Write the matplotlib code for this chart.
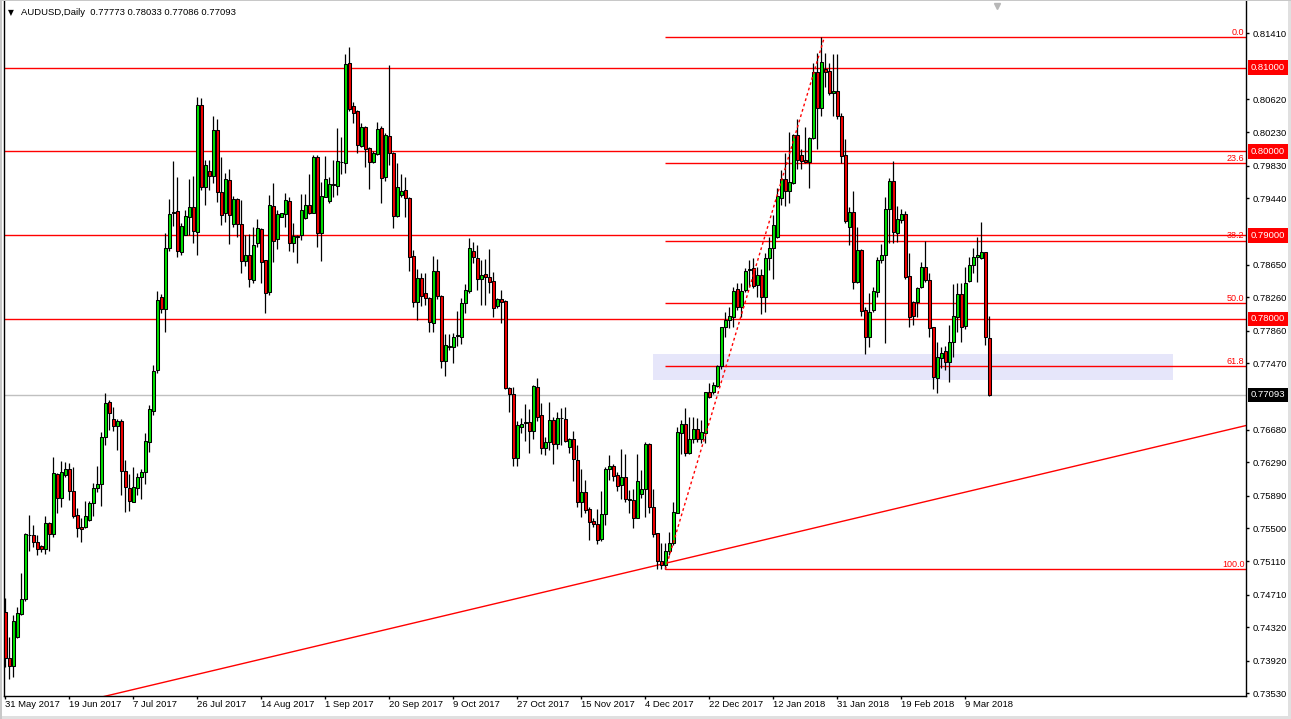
import matplotlib
matplotlib.use('Agg')
import matplotlib.pyplot as plt
import matplotlib.transforms as mtransforms
from matplotlib.patches import Rectangle
from matplotlib.lines import Line2D

plt.rcParams['font.family'] = ['Liberation Sans', 'DejaVu Sans']

symbol = 'AUDUSD,Daily'

opens = [
    0.74497, 0.73948, 0.73860, 0.74206, 0.74477, 0.74652, 0.75416, 0.75416, 0.75333, 0.75285,
    0.75249, 0.75564, 0.75436, 0.76149, 0.75866, 0.76137, 0.76208, 0.75942, 0.75655, 0.75516,
    0.75520, 0.75599, 0.75798, 0.75978, 0.76029, 0.76586, 0.77004, 0.76801, 0.76726, 0.76777,
    0.76180, 0.75985, 0.75818, 0.75977, 0.76108, 0.76168, 0.76534, 0.76904, 0.77390, 0.78257,
    0.78114, 0.78843, 0.79260, 0.79284, 0.78803, 0.79006, 0.79221, 0.79332, 0.79042, 0.80554,
    0.79579, 0.79766, 0.79710, 0.80251, 0.79511, 0.79260, 0.79658, 0.79137, 0.79428, 0.79129,
    0.78695, 0.78759, 0.78464, 0.78902, 0.79069, 0.78703, 0.78325, 0.79348, 0.78950, 0.79221,
    0.79252, 0.79404, 0.78910, 0.78994, 0.78998, 0.79209, 0.79360, 0.79268, 0.79933, 0.79030,
    0.79459, 0.79412, 0.79607, 0.79591, 0.79869, 0.79865, 0.81051, 0.80542, 0.80482, 0.80064,
    0.80287, 0.80037, 0.79877, 0.79969, 0.80275, 0.79690, 0.80184, 0.79985, 0.79232, 0.79479,
    0.79539, 0.79447, 0.78751, 0.78206, 0.78484, 0.78305, 0.78245, 0.77955, 0.78572, 0.78273,
    0.77501, 0.77668, 0.77668, 0.77796, 0.77788, 0.78186, 0.78337, 0.78810, 0.78723, 0.78480,
    0.78532, 0.78504, 0.78452, 0.78154, 0.78238, 0.78218, 0.77172, 0.77100, 0.76336, 0.76706,
    0.76754, 0.76766, 0.76666, 0.77187, 0.76853, 0.76455, 0.76535, 0.76789, 0.76511, 0.76817,
    0.76805, 0.76467, 0.76563, 0.76316, 0.75818, 0.75930, 0.75727, 0.75587, 0.75552, 0.75369,
    0.75667, 0.76204, 0.76244, 0.76133, 0.76021, 0.76109, 0.75850, 0.75838, 0.75627, 0.75906,
    0.75965, 0.76507, 0.75758, 0.75440, 0.75114, 0.75062, 0.75233, 0.75321, 0.75687, 0.76642,
    0.76745, 0.76403, 0.76566, 0.76682, 0.76566, 0.76642, 0.77124, 0.77124, 0.77203, 0.77442,
    0.77900, 0.77987, 0.78027, 0.78353, 0.78138, 0.78345, 0.78583, 0.78603, 0.78404, 0.78524,
    0.78265, 0.78723, 0.78842, 0.78981, 0.79447, 0.79666, 0.79531, 0.79626, 0.80195, 0.79957,
    0.79897, 0.79877, 0.80156, 0.80944, 0.80514, 0.80983, 0.80959, 0.80693, 0.80721, 0.80422,
    0.79957, 0.79101, 0.79272, 0.78436, 0.78822, 0.78106, 0.77779, 0.78106, 0.78325, 0.78703,
    0.78763, 0.79308, 0.79646, 0.79030, 0.79181, 0.79252, 0.78512, 0.78198, 0.78198, 0.78377,
    0.78620, 0.78464, 0.77899, 0.77290, 0.77537, 0.77617, 0.77489, 0.77720, 0.78027, 0.78297,
    0.77915, 0.78456, 0.78644, 0.78735, 0.78723, 0.78795, 0.77773,
]
highs = [
    0.74664, 0.74206, 0.74461, 0.74565, 0.74971, 0.75440, 0.75659, 0.75536, 0.75420, 0.75301,
    0.75647, 0.75580, 0.76348, 0.76157, 0.76300, 0.76292, 0.76276, 0.76228, 0.75739, 0.75619,
    0.75826, 0.75830, 0.76045, 0.76244, 0.76654, 0.77112, 0.77032, 0.76945, 0.76801, 0.76801,
    0.76316, 0.76148, 0.76228, 0.76156, 0.76208, 0.76634, 0.76972, 0.77446, 0.78333, 0.78297,
    0.79030, 0.79428, 0.79889, 0.79690, 0.79141, 0.79300, 0.79666, 0.79706, 0.80653, 0.80633,
    0.79897, 0.79897, 0.80423, 0.80383, 0.79937, 0.79738, 0.79786, 0.79467, 0.79440, 0.79420,
    0.79002, 0.79014, 0.79101, 0.79193, 0.79081, 0.78703, 0.79479, 0.79619, 0.79300, 0.79268,
    0.79499, 0.79459, 0.79149, 0.79000, 0.79491, 0.79491, 0.79730, 0.79957, 0.79957, 0.79639,
    0.79945, 0.79690, 0.79897, 0.80275, 0.80176, 0.81163, 0.81250, 0.80594, 0.80490, 0.80335,
    0.80303, 0.80048, 0.80000, 0.80355, 0.80303, 0.80215, 0.81031, 0.79997, 0.79865, 0.79730,
    0.79698, 0.79459, 0.78822, 0.78592, 0.78544, 0.78544, 0.78257, 0.78751, 0.78711, 0.78280,
    0.77819, 0.77819, 0.77827, 0.78098, 0.78245, 0.78416, 0.78962, 0.78922, 0.78882, 0.78703,
    0.78711, 0.78830, 0.78564, 0.78253, 0.78346, 0.78226, 0.77191, 0.77191, 0.76781, 0.76813,
    0.76984, 0.76925, 0.77210, 0.77299, 0.77000, 0.76586, 0.77004, 0.76825, 0.76885, 0.76941,
    0.76953, 0.76582, 0.76662, 0.76495, 0.76208, 0.76077, 0.75759, 0.75619, 0.75727, 0.75946,
    0.76228, 0.76376, 0.76264, 0.76169, 0.76447, 0.76383, 0.75957, 0.75965, 0.76387, 0.76196,
    0.76535, 0.76523, 0.75965, 0.75448, 0.75321, 0.75321, 0.75460, 0.75810, 0.76706, 0.76793,
    0.76933, 0.76833, 0.76825, 0.76813, 0.76793, 0.77132, 0.77231, 0.77251, 0.77450, 0.77908,
    0.78087, 0.78138, 0.78377, 0.78425, 0.78425, 0.78604, 0.78703, 0.78731, 0.78615, 0.78591,
    0.78782, 0.78981, 0.79240, 0.79559, 0.79777, 0.79976, 0.80235, 0.80207, 0.80382, 0.80024,
    0.80287, 0.80167, 0.81059, 0.81178, 0.81361, 0.81170, 0.81059, 0.81162, 0.81162, 0.80454,
    0.80144, 0.79332, 0.79531, 0.79101, 0.78830, 0.78138, 0.78305, 0.78384, 0.78743, 0.78894,
    0.79451, 0.79678, 0.79889, 0.79348, 0.79308, 0.79292, 0.78783, 0.78214, 0.78385, 0.78683,
    0.78934, 0.78544, 0.77907, 0.77728, 0.77660, 0.77676, 0.77927, 0.78417, 0.78425, 0.78425,
    0.78624, 0.78743, 0.78843, 0.78982, 0.79161, 0.78803, 0.78033,
]
lows = [
    0.73840, 0.73701, 0.73729, 0.74186, 0.74461, 0.74636, 0.75233, 0.75281, 0.75182, 0.75221,
    0.75193, 0.75233, 0.75400, 0.75679, 0.75759, 0.76117, 0.75838, 0.75619, 0.75400, 0.75341,
    0.75500, 0.75591, 0.75647, 0.75938, 0.75767, 0.76495, 0.76674, 0.76666, 0.76435, 0.75898,
    0.75699, 0.75710, 0.75810, 0.75897, 0.75846, 0.76029, 0.76415, 0.76853, 0.77358, 0.78074,
    0.77848, 0.78811, 0.79109, 0.78735, 0.78763, 0.78998, 0.79002, 0.78910, 0.78763, 0.79539,
    0.79360, 0.79539, 0.79619, 0.79400, 0.79121, 0.79161, 0.78894, 0.79101, 0.78982, 0.78544,
    0.78636, 0.78385, 0.78425, 0.78862, 0.78433, 0.78066, 0.78285, 0.78683, 0.78831, 0.79213,
    0.79101, 0.78815, 0.78803, 0.78663, 0.78942, 0.79189, 0.79250, 0.79260, 0.78854, 0.78695,
    0.79450, 0.79380, 0.79459, 0.79479, 0.79730, 0.79746, 0.80486, 0.80335, 0.79977, 0.80056,
    0.79818, 0.79547, 0.79865, 0.79957, 0.79388, 0.79650, 0.79837, 0.79081, 0.79212, 0.79451,
    0.79212, 0.78576, 0.78146, 0.77987, 0.78154, 0.78166, 0.77847, 0.77847, 0.78233, 0.77410,
    0.77318, 0.77628, 0.77469, 0.77676, 0.77700, 0.78066, 0.78305, 0.78671, 0.78345, 0.78166,
    0.78166, 0.78305, 0.78018, 0.78126, 0.77956, 0.77160, 0.76893, 0.76248, 0.76248, 0.76634,
    0.76547, 0.76395, 0.76563, 0.76785, 0.76387, 0.76376, 0.76435, 0.76264, 0.76443, 0.76495,
    0.76527, 0.76403, 0.76069, 0.75759, 0.75639, 0.75679, 0.75361, 0.75520, 0.75309, 0.75355,
    0.75540, 0.76077, 0.76069, 0.75950, 0.75846, 0.75818, 0.75679, 0.75500, 0.75620, 0.75858,
    0.75639, 0.75679, 0.75400, 0.75010, 0.75010, 0.75010, 0.75181, 0.75301, 0.75679, 0.76387,
    0.76363, 0.76387, 0.76515, 0.76535, 0.76515, 0.76523, 0.77060, 0.77104, 0.77191, 0.77398,
    0.77780, 0.77890, 0.77908, 0.78107, 0.78027, 0.78326, 0.78376, 0.78365, 0.78265, 0.78058,
    0.78086, 0.78583, 0.78472, 0.78962, 0.79360, 0.79348, 0.79387, 0.79610, 0.79785, 0.79785,
    0.79857, 0.79559, 0.80144, 0.80024, 0.80422, 0.80772, 0.80673, 0.80422, 0.80382, 0.79865,
    0.79141, 0.78882, 0.78353, 0.78424, 0.78034, 0.77580, 0.77668, 0.78086, 0.78265, 0.78671,
    0.77716, 0.78910, 0.78910, 0.78922, 0.79141, 0.78472, 0.77899, 0.77927, 0.78027, 0.78365,
    0.78445, 0.77788, 0.77159, 0.77111, 0.77410, 0.77390, 0.77251, 0.77549, 0.77848, 0.77720,
    0.77879, 0.78445, 0.78544, 0.78445, 0.78715, 0.77688, 0.77086,
]
closes = [
    0.73948, 0.73860, 0.74389, 0.74485, 0.74652, 0.75428, 0.75420, 0.75341, 0.75249, 0.75257,
    0.75560, 0.75436, 0.76157, 0.75866, 0.76169, 0.76204, 0.75942, 0.75651, 0.75508, 0.75496,
    0.75643, 0.75798, 0.75981, 0.76025, 0.76586, 0.76992, 0.76873, 0.76726, 0.76777, 0.76180,
    0.75989, 0.75830, 0.75997, 0.76108, 0.76176, 0.76542, 0.76920, 0.77382, 0.78226, 0.78114,
    0.78843, 0.79248, 0.79272, 0.78815, 0.79105, 0.79225, 0.79332, 0.79053, 0.80554, 0.79579,
    0.79834, 0.79710, 0.80251, 0.79511, 0.79244, 0.79666, 0.79244, 0.79428, 0.79129, 0.78695,
    0.78759, 0.78472, 0.78878, 0.79081, 0.78683, 0.78313, 0.79360, 0.78934, 0.79252, 0.79260,
    0.79416, 0.78902, 0.78990, 0.78982, 0.79300, 0.79360, 0.79260, 0.79933, 0.79030, 0.79463,
    0.79666, 0.79607, 0.79605, 0.79881, 0.79877, 0.81039, 0.80502, 0.80462, 0.80076, 0.80287,
    0.80025, 0.79877, 0.79985, 0.80263, 0.79686, 0.80196, 0.79985, 0.79232, 0.79571, 0.79527,
    0.79439, 0.78743, 0.78206, 0.78484, 0.78277, 0.78245, 0.77967, 0.78572, 0.78277, 0.77501,
    0.77684, 0.77672, 0.77780, 0.77804, 0.78186, 0.78345, 0.78842, 0.78735, 0.78480, 0.78524,
    0.78504, 0.78444, 0.78126, 0.78237, 0.78206, 0.77172, 0.77100, 0.76336, 0.76730, 0.76742,
    0.76766, 0.76658, 0.77199, 0.76833, 0.76455, 0.76527, 0.76789, 0.76511, 0.76813, 0.76821,
    0.76547, 0.76563, 0.76324, 0.75810, 0.75930, 0.75715, 0.75580, 0.75556, 0.75361, 0.75667,
    0.76208, 0.76240, 0.76129, 0.76009, 0.76109, 0.75846, 0.75838, 0.75627, 0.76065, 0.75969,
    0.76507, 0.75758, 0.75432, 0.75114, 0.75062, 0.75233, 0.75321, 0.75691, 0.76646, 0.76745,
    0.76403, 0.76562, 0.76682, 0.76566, 0.76646, 0.77124, 0.77072, 0.77211, 0.77442, 0.77900,
    0.77987, 0.78035, 0.78337, 0.78138, 0.78337, 0.78576, 0.78599, 0.78392, 0.78524, 0.78265,
    0.78723, 0.78842, 0.79121, 0.79467, 0.79666, 0.79531, 0.79630, 0.80195, 0.79897, 0.79889,
    0.79877, 0.80156, 0.80944, 0.80514, 0.81063, 0.80952, 0.80701, 0.80721, 0.80426, 0.79949,
    0.79172, 0.79272, 0.78436, 0.78822, 0.78098, 0.77787, 0.78078, 0.78333, 0.78703, 0.78763,
    0.79312, 0.79646, 0.79042, 0.79193, 0.79252, 0.78504, 0.78027, 0.78035, 0.78365, 0.78620,
    0.78464, 0.77895, 0.77302, 0.77541, 0.77589, 0.77489, 0.77720, 0.78035, 0.78293, 0.77907,
    0.78425, 0.78644, 0.78743, 0.78763, 0.78795, 0.77780, 0.77093,
]

date_labels = ['31 May 2017', '19 Jun 2017', '7 Jul 2017', '26 Jul 2017', '14 Aug 2017',
               '1 Sep 2017', '20 Sep 2017', '9 Oct 2017', '27 Oct 2017', '15 Nov 2017',
               '4 Dec 2017', '22 Dec 2017', '12 Jan 2018', '31 Jan 2018', '19 Feb 2018',
               '9 Mar 2018']
date_label_bars = [0, 16, 32, 48, 64, 80, 96, 112, 128, 144, 160, 176, 192, 208, 224, 240]

price_ticks = [0.81410, 0.80620, 0.80230, 0.79830, 0.79440, 0.78650, 0.78260, 0.77860,
               0.77470, 0.76680, 0.76290, 0.75890, 0.75500, 0.75110, 0.74710, 0.74320,
               0.73920, 0.73530]
round_levels = [0.81000, 0.80000, 0.79000, 0.78000]

fib_ratios = [0.0, 23.6, 38.2, 50.0, 61.8, 100.0]
fib_low, fib_high = 0.75010, 0.81361
fib_low_bar, fib_high_bar = 165, 204.75

zone_bars = [161.85, 291.85]
zone_prices = [0.77274, 0.77581]

trend_bars = [153.7, 310.2]
trend_prices = [0.74955, 0.76728]

# ---------------------------------------------------------------
W, H = 1291, 719
UP, DN = '#00E000', '#F00000'
FS = 6.8

fig = plt.figure(figsize=(W / 100, H / 100), dpi=100)
fig.patch.set_facecolor('white')
ax = fig.add_axes([4 / W, (H - 695.7) / H, (1246 - 4) / W, (695.7 - 1) / H])
x0, x1 = -0.325, 310.175
ax.set_xlim(x0, x1)
ax.set_ylim(0.735025, 0.817956)
ax.set_facecolor('white')

# zone
ax.add_patch(Rectangle((zone_bars[0], zone_prices[0]), zone_bars[1] - zone_bars[0],
                       zone_prices[1] - zone_prices[0], facecolor='#E6E6FA',
                       edgecolor='none', zorder=1))

# round-number lines
for lv in round_levels:
    ax.axhline(lv, color='red', lw=1, zorder=2)

# bid line
bid = closes[-1]
ax.axhline(bid, color='#C0C0C0', lw=1, zorder=2)

# fibonacci
rng = fib_high - fib_low
for r in fib_ratios:
    p = fib_high - r / 100.0 * rng
    ax.hlines(p, fib_low_bar, x1, color='red', lw=1, zorder=2)
    ax.text(x1 - 0.35, p + 0.00005, f'{r:.1f}', ha='right', va='bottom',
            color='red', fontsize=6.5, zorder=6)
ax.plot([fib_low_bar, fib_high_bar], [fib_low, fib_high], color='red', lw=1,
        ls=(0, (2, 2)), zorder=5)

# trend line (ray)
slope = (trend_prices[1] - trend_prices[0]) / (trend_bars[1] - trend_bars[0])
ax.plot([x0, x1], [trend_prices[0] + slope * (x0 - trend_bars[0]),
                   trend_prices[0] + slope * (x1 - trend_bars[0])],
        color='red', lw=1, zorder=2)

# candles
n = len(closes)
xs = list(range(n))
ax.vlines(xs, lows, highs, color='black', lw=0.9, zorder=3)
bottoms, heights, cols = [], [], []
min_h = 0.00005
for o, c in zip(opens, closes):
    lo, hi = min(o, c), max(o, c)
    h = max(hi - lo, min_h)
    bottoms.append((lo + hi) / 2 - h / 2)
    heights.append(h)
    cols.append(UP if c >= o else DN)
ax.bar(xs, heights, bottom=bottoms, width=0.62, color=cols, edgecolor='black',
       linewidth=0.75, zorder=4)

# axes styling
ax.spines['top'].set_visible(False)
for s in ['left', 'right', 'bottom']:
    ax.spines[s].set_color('black')
    ax.spines[s].set_linewidth(1)

ax.yaxis.tick_right()
ax.set_yticks(price_ticks)
ax.set_yticklabels([f'{p:.5f}' for p in price_ticks])
ax.tick_params(axis='y', direction='out', length=2.2, width=1, pad=2.5,
               labelsize=FS, colors='black')
ax.set_xticks(date_label_bars)
ax.set_xticklabels(date_labels, ha='left')
ax.tick_params(axis='x', direction='out', length=2.2, width=1, pad=1.0,
               labelsize=FS, colors='black')

# price labels boxes
trans = mtransforms.blended_transform_factory(ax.transAxes, ax.transData)
xl = (1251 - 4) / (1246 - 4)
for lv in round_levels:
    ax.text(xl, lv, f'{lv:.5f}', transform=trans, ha='left', va='center',
            color='white', fontsize=FS, zorder=10, clip_on=False,
            bbox=dict(boxstyle='square,pad=0.3', facecolor='red', edgecolor='none'))
ax.text(xl, bid, f'{bid:.5f}', transform=trans, ha='left', va='center',
        color='white', fontsize=FS, zorder=10, clip_on=False,
        bbox=dict(boxstyle='square,pad=0.3', facecolor='black', edgecolor='none'))

# header
fig.text(8 / W, 1 - 12.5 / H, '\u25BC', fontsize=5.5, va='center', ha='left',
         family='DejaVu Sans')
fig.text(21 / W, 1 - 12.5 / H,
         f'{symbol}  {opens[-1]:.5f} {highs[-1]:.5f} {lows[-1]:.5f} {closes[-1]:.5f}',
         fontsize=FS, va='center', ha='left')

# shift marker
fig.add_artist(Line2D([997 / W], [1 - 6 / H], marker='v', color='#B8B8B8',
                      markersize=5, transform=fig.transFigure, linestyle='none'))

# window border
fig.add_artist(Rectangle((1288 / W, 0), 3 / W, 1, transform=fig.transFigure,
                         facecolor='#E0E0E0', edgecolor='none'))
fig.add_artist(Rectangle((0, 0), 1, 3 / H, transform=fig.transFigure,
                         facecolor='#E0E0E0', edgecolor='none'))
fig.add_artist(Rectangle((0, 0), 2 / W, 1, transform=fig.transFigure,
                         facecolor='#C8C8C8', edgecolor='none'))
fig.add_artist(Rectangle((0, 1 - 1 / H), 1, 1 / H, transform=fig.transFigure,
                         facecolor='#C8C8C8', edgecolor='none'))

fig.savefig('out.png', dpi=100)
